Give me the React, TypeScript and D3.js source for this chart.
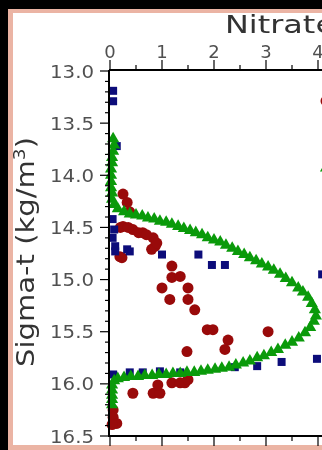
import React from 'react';
import * as d3 from 'd3';

// ---- data ----
const titleText = 'Nitrate';
const xTickValues = [0, 1, 2, 3, 4];
const yTickValues = [13.0, 13.5, 14.0, 14.5, 15.0, 15.5, 16.0, 16.5];

// red circles: [nitrate, sigma-t]
const circleSeries: [number, number][] = [
  [0.25, 14.18], [0.33, 14.26], [0.38, 14.35], [0.25, 14.49], [0.44, 14.52], [0.63, 14.55],
  [0.83, 14.6], [0.87, 14.68], [0.8, 14.71], [0.19, 14.78], [0.2, 14.5], [0.35, 14.5],
  [0.55, 14.55], [0.7, 14.57], [0.9, 14.65], [0.23, 14.79],
  [1.19, 14.87], [1.19, 14.98], [1.35, 14.97], [1.0, 15.08], [1.15, 15.19], [1.5, 15.08],
  [1.5, 15.19], [1.63, 15.29], [1.87, 15.48], [1.98, 15.48], [3.04, 15.5], [2.27, 15.58],
  [2.21, 15.67], [1.48, 15.69], [0.44, 16.09], [0.83, 16.09], [0.96, 16.09], [0.92, 16.01],
  [1.19, 15.99], [1.44, 15.99], [1.35, 15.99], [1.5, 15.96], [0.06, 16.25], [0.06, 16.32],
  [0.13, 16.38], [0.04, 16.39],
];

// blue squares
const squareSeries: [number, number][] = [
  [0.06, 13.19], [0.06, 13.29], [0.13, 13.72], [0.05, 14.42], [0.08, 14.52], [0.05, 14.6],
  [0.1, 14.68], [0.1, 14.73], [0.33, 14.71], [0.38, 14.73], [1.0, 14.76], [1.7, 14.76],
  [1.96, 14.86], [2.21, 14.86], [4.08, 14.95],
  [0.06, 15.91], [0.38, 15.89], [0.63, 15.89], [0.96, 15.88], [1.35, 15.89], [2.4, 15.84],
  [2.83, 15.83], [3.3, 15.79], [3.98, 15.76],
];

// green triangles
const triangleSeries: [number, number][] = [
  [0.06, 13.65], [0.08, 13.71], [0.06, 13.77], [0.04, 13.83], [0.04, 13.88], [0.02, 13.94],
  [0.02, 14.0], [0.02, 14.06], [0.02, 14.12], [0.04, 14.17], [0.04, 14.23], [0.08, 14.28],
  [0.15, 14.32], [0.27, 14.35], [0.38, 14.37], [0.5, 14.38], [0.62, 14.39], [0.73, 14.41],
  [0.85, 14.42], [0.96, 14.44], [1.08, 14.45], [1.19, 14.47], [1.31, 14.49], [1.42, 14.51],
  [1.54, 14.53], [1.65, 14.55], [1.77, 14.57], [1.88, 14.6], [2.0, 14.62], [2.12, 14.64],
  [2.23, 14.67], [2.35, 14.7], [2.46, 14.73], [2.58, 14.76], [2.69, 14.79], [2.81, 14.82],
  [2.92, 14.85], [3.04, 14.88], [3.15, 14.91], [3.27, 14.95], [3.38, 14.99], [3.5, 15.03],
  [3.62, 15.08], [3.71, 15.12], [3.81, 15.17], [3.88, 15.23], [3.94, 15.29], [3.96, 15.35],
  [3.92, 15.4], [3.85, 15.46], [3.75, 15.51], [3.63, 15.56], [3.5, 15.6], [3.37, 15.63],
  [3.23, 15.67], [3.1, 15.7], [2.96, 15.73], [2.83, 15.75], [2.69, 15.78], [2.56, 15.8],
  [2.42, 15.82], [2.29, 15.84], [2.15, 15.85], [2.02, 15.86], [1.88, 15.87], [1.75, 15.88],
  [1.62, 15.89], [1.48, 15.89], [1.35, 15.9], [1.21, 15.9], [1.08, 15.91], [0.94, 15.91],
  [0.81, 15.92], [0.67, 15.92], [0.54, 15.93], [0.4, 15.93], [0.27, 15.94], [0.15, 15.95],
  [0.08, 15.97], [0.04, 16.01], [0.04, 16.06], [0.04, 16.11], [0.04, 16.15], [0.04, 16.2],
];

const RED = '#990a0a';
const BLUE = '#0c0c7a';
const GREEN = '#0a9a0a';
const PINK = '#ebb4a4';
const LABEL = '#505050';
const FONT = 'DejaVu Sans, Verdana, sans-serif';

export default function App() {
  const W = 322;
  const H = 450;
  const left = 110;
  const top = 71;
  const bottom = 436;

  const x = d3.scaleLinear().domain([0, 8]).range([left, left + 8 * 52]);
  const y = d3.scaleLinear().domain([13, 16.5]).range([top, bottom]);

  const minorY = d3.range(130, 166).map((v) => v / 10).filter((v) => Math.abs(v * 2 - Math.round(v * 2)) > 1e-6);
  const minorX = [0.5, 1.5, 2.5, 3.5];

  const circlePath = d3.symbol(d3.symbolCircle, 95)() as string;
  const squarePath = d3.symbol(d3.symbolSquare, 64)() as string;
  const trianglePath = d3.symbol(d3.symbolTriangle, 64)() as string;

  const legend = [
    { path: circlePath, color: RED, y: 101 },
    { path: squarePath, color: BLUE, y: 134 },
    { path: trianglePath, color: GREEN, y: 168 },
  ];

  return (
    <svg
      width={W}
      height={H}
      style={{ position: 'fixed', left: 0, top: 0, display: 'block' }}
      fontFamily={FONT}
    >
      <rect x={0} y={0} width={W} height={H} fill="#000" />
      <rect x={8} y={9} width={W} height={H} fill={PINK} />
      <rect x={13} y={13} width={W} height={445 - 13} fill="#fff" />

      {/* title */}
      <text x={225} y={33} fontSize={25} fill="#333" textLength={110} lengthAdjust="spacingAndGlyphs">
        {titleText}
      </text>

      {/* series */}
      <g>
        {circleSeries.map(([a, b], i) => (
          <path key={'c' + i} d={circlePath} transform={`translate(${x(a)},${y(b)})`} fill={RED} />
        ))}
      </g>
      <g>
        {squareSeries.map(([a, b], i) => (
          <path key={'s' + i} d={squarePath} transform={`translate(${x(a)},${y(b)})`} fill={BLUE} />
        ))}
      </g>
      <g>
        {triangleSeries.map(([a, b], i) => (
          <path key={'t' + i} d={trianglePath} transform={`translate(${x(a)},${y(b)})`} fill={GREEN} />
        ))}
      </g>

      {/* legend markers (cut by the right edge) */}
      {legend.map((l, i) => (
        <path key={'l' + i} d={l.path} transform={`translate(326,${l.y})`} fill={l.color} />
      ))}

      {/* axes */}
      <g stroke="#000" strokeWidth={2}>
        <line x1={left - 1} x2={W} y1={top - 1} y2={top - 1} />
        <line x1={left - 1} x2={W} y1={bottom} y2={bottom} />
        <line x1={left - 1} x2={left - 1} y1={top - 1} y2={bottom + 1} />
      </g>
      <g stroke="#000" strokeWidth={1.2}>
        {yTickValues.map((v) => (
          <line key={'ym' + v} x1={left - 10} x2={left} y1={y(v)} y2={y(v)} />
        ))}
        {minorY.map((v) => (
          <line key={'yn' + v} x1={left - 5} x2={left} y1={y(v)} y2={y(v)} />
        ))}
        {xTickValues.map((v) => (
          <g key={'xm' + v}>
            <line x1={x(v)} x2={x(v)} y1={top - 11} y2={top - 1} />
            <line x1={x(v)} x2={x(v)} y1={bottom} y2={bottom + 10} />
          </g>
        ))}
        {minorX.map((v) => (
          <g key={'xn' + v}>
            <line x1={x(v)} x2={x(v)} y1={top - 6} y2={top - 1} />
            <line x1={x(v)} x2={x(v)} y1={bottom} y2={bottom + 5} />
          </g>
        ))}
      </g>

      {/* tick labels */}
      <g fontSize={18} fill={LABEL}>
        {yTickValues.map((v) => (
          <text key={'yl' + v} x={94} y={y(v) + 6.5} textAnchor="end" textLength={44} lengthAdjust="spacingAndGlyphs">
            {d3.format('.1f')(v)}
          </text>
        ))}
        {xTickValues.map((v) => (
          <text key={'xl' + v} x={x(v)} y={58} textAnchor="middle">
            {String(v)}
          </text>
        ))}
      </g>

      {/* y axis title */}
      <text
        transform="translate(34,252) rotate(-90)"
        textAnchor="middle"
        fontSize={25}
        fill="#333"
        textLength={230}
        lengthAdjust="spacingAndGlyphs"
      >
        Sigma-t (kg/m<tspan baselineShift="super" fontSize={16}>3</tspan>)
      </text>
    </svg>
  );
}
